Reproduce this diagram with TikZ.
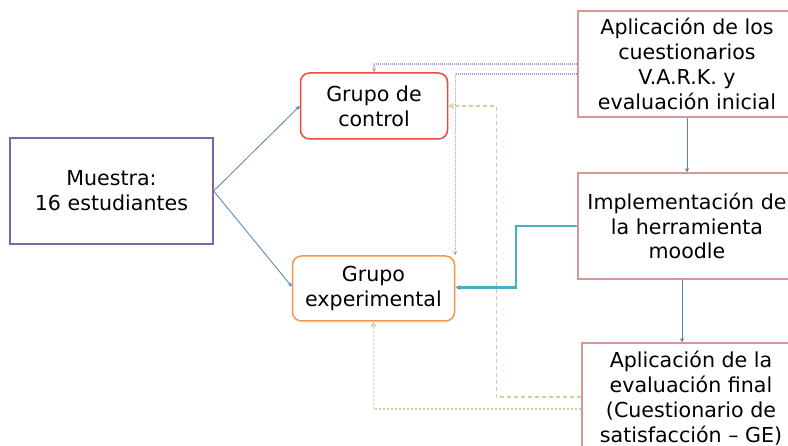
\documentclass[tikz,border=0pt]{standalone}
\usepackage{fontspec}
\setmainfont{DejaVu Sans}
\usetikzlibrary{arrows.meta}
\definecolor{cblue}{HTML}{4F81BD}
\definecolor{cpurple}{HTML}{8064A2}
\definecolor{clav}{HTML}{AD9BD6}
\definecolor{cred}{HTML}{EB4A3C}
\definecolor{corange}{HTML}{F79646}
\definecolor{cpink}{HTML}{D99694}
\definecolor{cteal}{HTML}{4BACC6}
\definecolor{cgreen}{HTML}{C3D69B}
\tikzset{
  txt/.style={font=\fontsize{20.6}{24.8}\selectfont, align=center, inner sep=0pt, text=black},
  sqbox/.style={txt, draw=cpink, line width=1.5pt, minimum width=218pt, minimum height=106pt},
  rbox/.style={txt, rounded corners=9pt, line width=1.5pt},
  blue arrow/.style={draw=cblue, line width=0.8pt, -{Stealth[length=4pt,width=4pt]}},
  lav arrow/.style={draw=clav, line width=1.1pt, dash pattern=on 1pt off 1pt, -{Stealth[length=4pt,width=4pt]}},
  green dash/.style={draw=cgreen, line width=1.2pt, dash pattern=on 4pt off 3pt, -{Triangle[open,length=5pt,width=6pt]}},
  green dot/.style={draw=cgreen, line width=1.2pt, dash pattern=on 2pt off 2pt, -{Triangle[open,length=5pt,width=6pt]}},
  teal arrow/.style={draw=cteal, line width=2.2pt, -{Stealth[length=5pt,width=5pt]}}
}
\begin{document}
\begin{tikzpicture}[x=1pt,y=-1pt]
\useasboundingbox (0,0) rectangle (788,446);
\clip (0,0) rectangle (788,446);
\fill[white] (0,0) rectangle (788,446);
\node[txt, draw=cpurple, line width=1.3pt, minimum width=203pt, minimum height=106pt] (muestra) at (111.5,191) {Muestra:\\16 estudiantes};
\node[rbox, draw=cred, minimum width=147pt, minimum height=66pt] (control) at (374,106) {Grupo de\\control};
\node[rbox, draw=corange, minimum width=162pt, minimum height=65pt] (exper) at (373.5,288.5) {Grupo\\experimental};
\node[sqbox] (b1) at (687,64) {Aplicación de los\\cuestionarios\\V.A.R.K. y\\evaluación inicial};
\node[sqbox] (b2) at (687,226) {Implementación de\\la herramienta\\moodle};
\node[sqbox, minimum height=110pt] (b3) at (691,398) {Aplicación de la\\evaluación final\\(Cuestionario de\\satisfacción – GE)};
% connectors
\draw[blue arrow] (muestra.east) -- (control.west);
\draw[blue arrow] (muestra.east) -- ([yshift=2pt]exper.west);
\draw[blue arrow] (b1.south) -- (b2.north);
\draw[blue arrow] ([xshift=-5pt]b2.south) -- ([xshift=-5pt]b2.south |- b3.north);
\draw[lav arrow] (b1.west) -| (control.north);
\draw[lav arrow] ([yshift=-10pt]b1.west) -| (exper.north east);
\draw[teal arrow] (b2.west) -- ++(-61,0) |- ([yshift=1pt]exper.east);
\draw[green dash] ([yshift=1pt]b3.west) -- ++(-85,0) |- (control.east);
\draw[green dot] ([yshift=-11pt]b3.west) -| (exper.south);
\end{tikzpicture}
\end{document}
